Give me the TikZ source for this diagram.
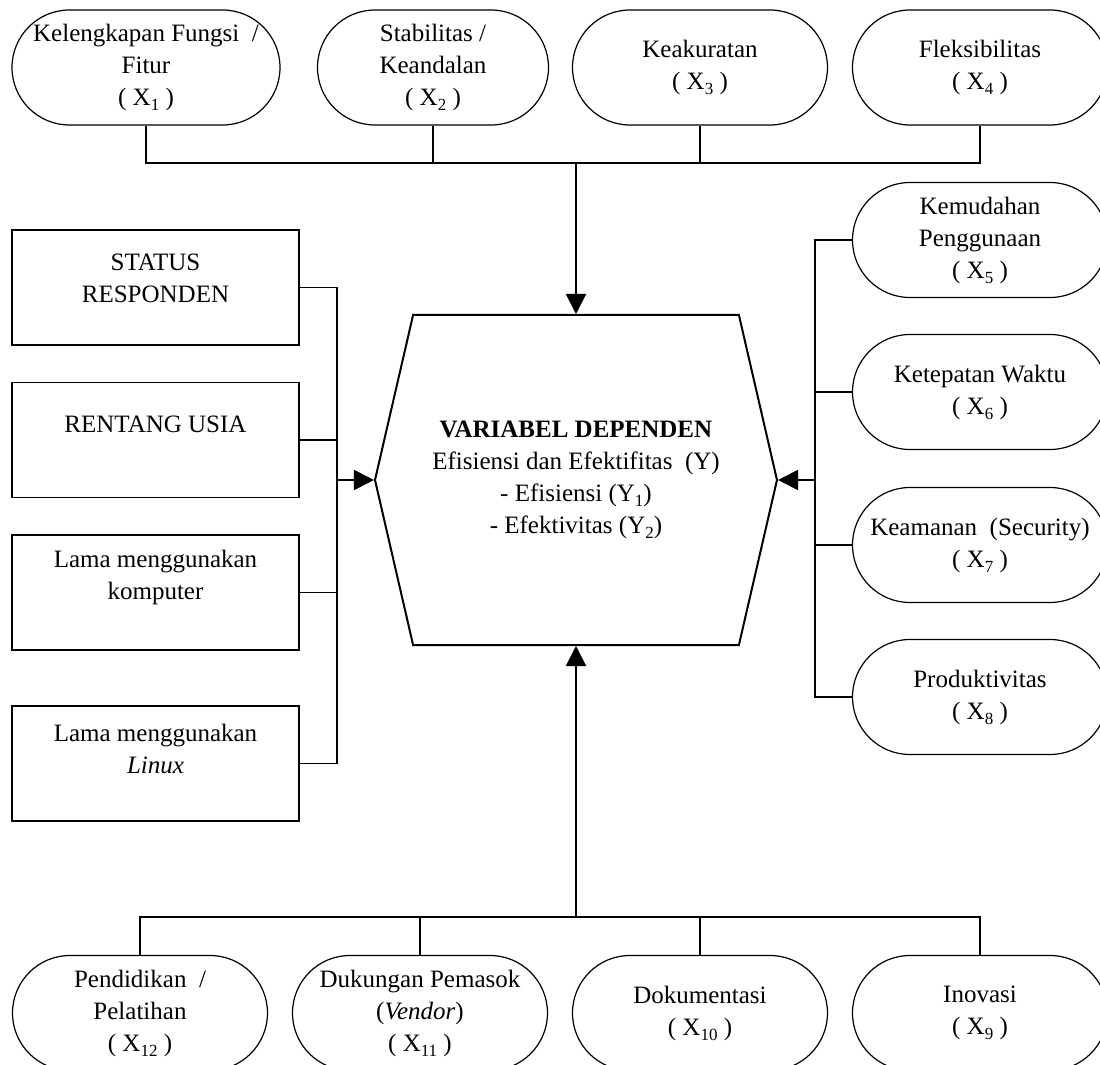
\documentclass[tikz,border=0pt]{standalone}
\usepackage{fontspec}
\setmainfont{Liberation Serif}
\usetikzlibrary{shapes.misc,shapes.symbols,arrows.meta}

\newcommand{\indeks}[1]{\raisebox{-0.45ex}{\fontsize{8.5}{8.5}\selectfont #1}}

\tikzset{
    faktor/.style={rounded rectangle, draw, line width=0.6pt, minimum width=127.5pt,
        minimum height=57.5pt, align=center, inner sep=0pt},
    kotak/.style={rectangle, draw, line width=0.6pt, minimum width=143.5pt, minimum height=57.5pt},
    teks/.style={align=center, inner sep=0pt},
    hexa/.style={signal, signal to=east and west, signal pointer angle=154, draw, line width=1pt,
        minimum width=201pt, minimum height=165pt, align=center, inner sep=0pt},
    garis/.style={line width=0.6pt},
    panah/.style={line width=1pt, -{Triangle[length=10pt,width=10pt]}}
}

\begin{document}
\begin{tikzpicture}[x=0.5pt,y=-0.5pt,font=\fontsize{12.5}{16}\selectfont]
    \useasboundingbox (0,0) rectangle (1100,1065);
    \clip (0,0) rectangle (1100,1065);

    % Variabel dependen
    \node[hexa] (dep) at (576,480) {\textbf{VARIABEL DEPENDEN}\\Efisiensi dan Efektifitas~ (Y)\\- Efisiensi (Y\indeks{1})\\- Efektivitas (Y\indeks{2})};

    % Faktor atas
    \node[faktor, minimum width=134pt] (f1) at (146,67.5) {Kelengkapan Fungsi~ /\\Fitur\\( X\indeks{1} )};
    \node[faktor, minimum width=115.5pt] (f2) at (433,67.5) {Stabilitas /\\Keandalan\\( X\indeks{2} )};
    \node[faktor] (f3) at (700,67.5) {Keakuratan\\( X\indeks{3} )};
    \node[faktor] (f4) at (980,67.5) {Fleksibilitas\\( X\indeks{4} )};

    % Faktor kanan
    \node[faktor] (f5) at (980,240) {Kemudahan\\Penggunaan\\( X\indeks{5} )};
    \node[faktor] (f6) at (980,392) {Ketepatan Waktu\\( X\indeks{6} )};
    \node[faktor] (f7) at (980,545) {Keamanan~ (Security)\\( X\indeks{7} )};
    \node[faktor] (f8) at (980,697) {Produktivitas\\( X\indeks{8} )};

    % Faktor bawah
    \node[faktor] (f12) at (140,1013) {Pendidikan~ /\\Pelatihan\\( X\indeks{12} )};
    \node[faktor] (f11) at (420,1013) {Dukungan Pemasok\\(\textit{Vendor})\\( X\indeks{11} )};
    \node[faktor] (f10) at (700,1013) {Dokumentasi\\( X\indeks{10} )};
    \node[faktor] (f9) at (980,1013) {Inovasi\\( X\indeks{9} )};

    % Data responden
    \node[kotak] (status) at (155.5,287.5) {};
    \node[teks] (status-t) at (155.5,278) {STATUS\\RESPONDEN};
    \node[kotak] (usia) at (155.5,440) {};
    \node[teks] (usia-t) at (155.5,424) {RENTANG USIA};
    \node[kotak] (komputer) at (155.5,592.5) {};
    \node[teks] (komputer-t) at (155.5,577) {Lama menggunakan\\komputer};
    \node[kotak] (linux) at (155.5,763.5) {};
    \node[teks] (linux-t) at (155.5,749) {Lama menggunakan\\\textit{Linux}};

    % Titik cabang
    \coordinate (atas) at (576,163);
    \coordinate (kanan) at (815,480);
    \coordinate (bawah) at (576,917);
    \coordinate (kiri) at (337,480);

    % Garis atas
    \draw[garis] (f1.south) -- (f1.south |- atas) -- (f4.south |- atas) -- (f4.south);
    \draw[garis] (f2.south) -- (f2.south |- atas);
    \draw[garis] (f3.south) -- (f3.south |- atas);
    \draw[panah] (atas) -- (dep.north);

    % Garis kanan
    \draw[garis] (f5.west) -- (f5.west -| kanan) -- (f8.west -| kanan) -- (f8.west);
    \draw[garis] (f6.west) -- (f6.west -| kanan);
    \draw[garis] (f7.west) -- (f7.west -| kanan);
    \draw[panah] (kanan) -- (dep.east);

    % Garis bawah
    \draw[garis] (f12.north) -- (f12.north |- bawah) -- (f9.north |- bawah) -- (f9.north);
    \draw[garis] (f11.north) -- (f11.north |- bawah);
    \draw[garis] (f10.north) -- (f10.north |- bawah);
    \draw[panah] (bawah) -- (dep.south);

    % Garis kiri
    \draw[garis] (status.east) -- (status.east -| kiri) -- (linux.east -| kiri) -- (linux.east);
    \draw[garis] (usia.east) -- (usia.east -| kiri);
    \draw[garis] (komputer.east) -- (komputer.east -| kiri);
    \draw[panah] (kiri) -- (dep.west);
\end{tikzpicture}
\end{document}
